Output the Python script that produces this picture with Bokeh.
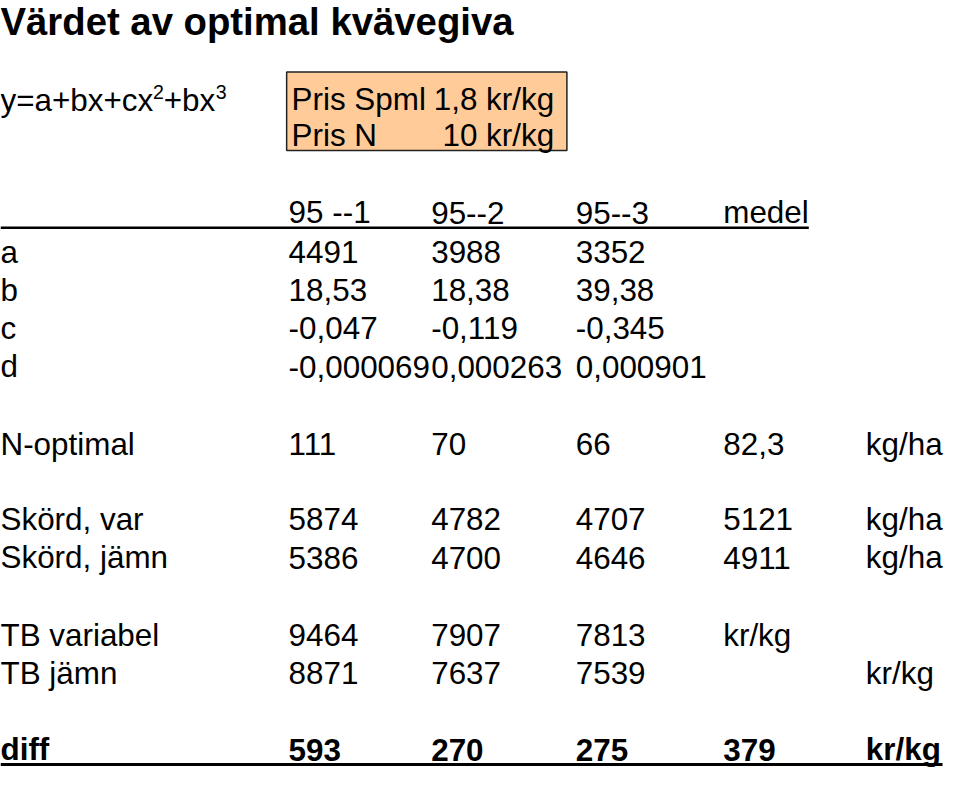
from bokeh.plotting import figure
from bokeh.models import Range1d
from bokeh.core.properties import value
from bokeh.embed import file_html
from bokeh.resources import INLINE

# ---------------- data ----------------
title = "Värdet av optimal kvävegiva"
formula_parts = ["y=a+bx+cx", "2", "+bx", "3"]

price_labels = ["Pris Spml", "Pris N"]
price_values = ["1,8", "10"]
price_units = ["kr/kg", "kr/kg"]

headers = ["95 --1", "95--2", "95--3", "medel"]

coef_labels = ["a", "b", "c", "d"]
coef_a = [4491, 3988, 3352]
coef_b = [18.53, 18.38, 39.38]
coef_c = [-0.047, -0.119, -0.345]
coef_d = [-0.000069, 0.000263, 0.000901]

n_optimal = [111, 70, 66, 82.3]
skord_var = [5874, 4782, 4707, 5121]
skord_jamn = [5386, 4700, 4646, 4911]
tb_variabel = [9464, 7907, 7813]
tb_jamn = [8871, 7637, 7539]
diff = [593, 270, 275, 379]

# ---------------- layout (reference pixel coordinates) ----------------
FONT = "Liberation Sans"
BODY = 31.4
col_x = [293, 438, 585, 735, 880]
label_x = 0


def sv(v, dec=0):
    return f"{v:.{dec}f}".replace(".", ",")


p = figure(width=944, height=769, output_backend="svg", toolbar_location=None,
           x_range=Range1d(0, 960), y_range=Range1d(785, 0),
           min_border=0, tools="")
p.axis.visible = False
p.grid.visible = False
p.outline_line_color = None
p.background_fill_color = "white"
p.border_fill_color = "white"


def txt(x, baseline, s, size=BODY, bold=False, align="left"):
    # the svg text is placed by its cap middle; shift from baseline
    y = baseline - 0.358 * size
    p.text(x=[x], y=[y], text=[s], text_font=value(FONT), text_font_size=f"{size}px",
           text_font_style="bold" if bold else "normal", text_color="black",
           text_align=align, text_baseline="alphabetic")


# title
txt(0, 35, title, size=38.3, bold=True)

# formula
fy = 113
txt(0, fy, formula_parts[0])
txt(155, fy - 13, formula_parts[1], size=19.6)
txt(166, fy, formula_parts[2])
txt(219, fy - 13, formula_parts[3], size=19.6)

# price box
p.quad(left=[291], right=[576], top=[73], bottom=[153], fill_color="#FFCC99",
       line_color="#222222", line_width=1.5)
price_y = [112, 149]
for i in range(2):
    txt(296, price_y[i], price_labels[i])
    txt(485, price_y[i], price_values[i], align="right")
    txt(563, price_y[i], price_units[i], align="right")

# header
for j, h in enumerate(headers):
    txt(col_x[j], 228, h)
p.segment(x0=[0], y0=[232], x1=[822], y1=[232], line_color="black", line_width=2.5)

# coefficients
coef_rows = [
    [str(v) for v in coef_a],
    [sv(v, 2) for v in coef_b],
    [sv(v, 3) for v in coef_c],
    [sv(v, 6) for v in coef_d],
]
coef_y = [268, 307, 346, 385]
for i, lab in enumerate(coef_labels):
    txt(label_x, coef_y[i], lab)
    for j, s in enumerate(coef_rows[i]):
        txt(col_x[j], coef_y[i], s)

# N-optimal
txt(label_x, 464, "N-optimal")
for j, v in enumerate(n_optimal):
    txt(col_x[j], 464, sv(v, 1) if v != int(v) else str(int(v)))
txt(col_x[4], 464, "kg/ha")

# Skörd
for y, lab, vals in [(541, "Skörd, var", skord_var), (580, "Skörd, jämn", skord_jamn)]:
    txt(label_x, y, lab)
    for j, v in enumerate(vals):
        txt(col_x[j], y, str(v))
    txt(col_x[4], y, "kg/ha")

# TB
txt(label_x, 659, "TB variabel")
for j, v in enumerate(tb_variabel):
    txt(col_x[j], 659, str(v))
txt(col_x[3], 659, "kr/kg")

txt(label_x, 698, "TB jämn")
for j, v in enumerate(tb_jamn):
    txt(col_x[j], 698, str(v))
txt(col_x[4], 698, "kr/kg")

# diff
txt(label_x, 776, "diff", bold=True)
for j, v in enumerate(diff):
    txt(col_x[j], 776, str(v), bold=True)
txt(col_x[4], 776, "kr/kg", bold=True)
p.segment(x0=[0], y0=[780], x1=[958], y1=[780], line_color="black", line_width=3)

open("out.html", "w").write(file_html(p, INLINE))
